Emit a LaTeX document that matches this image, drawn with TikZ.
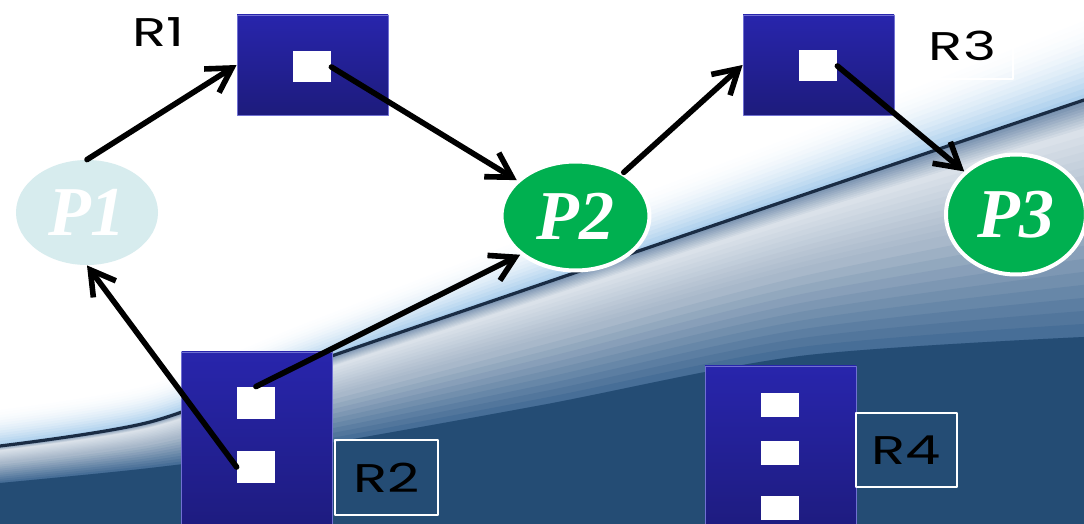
\documentclass[tikz,border=0pt]{standalone}
\usepackage{fontspec}
\setmainfont{Liberation Serif}
\newfontfamily\labelfont[FakeStretch=1.4]{Poppins}
\usetikzlibrary{arrows.meta,shapes.geometric,calc}
\definecolor{resblue}{RGB}{40,37,172}
\definecolor{resdark}{RGB}{29,27,124}
\definecolor{resedge}{RGB}{112,112,210}
\definecolor{procgreen}{RGB}{0,176,80}
\definecolor{procpale}{RGB}{215,236,238}
\definecolor{skyglow}{RGB}{160,200,234}
\definecolor{bandtop}{RGB}{118,144,174}
\definecolor{bandlight}{RGB}{218,225,233}
\definecolor{bandgray}{RGB}{168,184,202}
\definecolor{sweepmid}{RGB}{60,102,145}
\definecolor{sweepdark}{RGB}{36,76,116}
\definecolor{sweepline}{RGB}{26,44,68}
\begin{document}
\begin{tikzpicture}[x=0.5pt,y=-0.5pt,line join=round,line cap=round,>={Straight Barb[length=12pt,width=14pt]}]
	\tikzset{res/.style={rectangle,inner sep=0pt,minimum width=75.5pt,draw=resedge,line width=0.4pt,top color=resblue,bottom color=resdark},
		slot/.style={rectangle,fill=white,inner sep=0pt,minimum width=19pt,minimum height=16pt},
		proc/.style={ellipse,inner sep=0pt,text=white,font=\fontsize{35}{35}\selectfont\bfseries\itshape},
		tag/.style={inner sep=0pt,text=black,font=\labelfont\fontsize{20}{20}\selectfont},
		tagbox/.style={draw=white,line width=0.7pt},
		req/.style={->,line width=2.8pt}}
	\useasboundingbox (0,0) rectangle (1084,524);
	\clip (0,0) rectangle (1084,524);
	% background sweep
	\fill[white] (0,0) rectangle (1084,524);
	\coordinate (g0) at (0,405); \coordinate (g1) at (150,380); \coordinate (g2) at (300,320);
	\coordinate (g3) at (542,225); \coordinate (g4) at (800,125); \coordinate (g5) at (1084,10);
	\coordinate (a0) at (0,446); \coordinate (a1) at (150,422); \coordinate (a2) at (300,367);
	\coordinate (a3) at (542,284); \coordinate (a4) at (800,196); \coordinate (a5) at (1084,100);
	\coordinate (b0) at (0,483); \coordinate (b1) at (150,468); \coordinate (b2) at (300,448);
	\coordinate (b3) at (542,405); \coordinate (b4) at (800,356); \coordinate (b5) at (1084,337);
	\foreach \i in {0,...,16}{
		\pgfmathsetmacro{\t}{\i/16}
		\pgfmathsetmacro{\m}{100*\t*\t}
		\fill[skyglow!\m!white] plot[smooth] coordinates {($(g0)!\t!(a0)$) ($(g1)!\t!(a1)$) ($(g2)!\t!(a2)$) ($(g3)!\t!(a3)$) ($(g4)!\t!(a4)$) ($(g5)!\t!(a5)$)} -- (1084,524) -- (0,524) -- cycle;
	}
	\foreach \ta/\tb/\ca/\cb in {0/0.12/bandtop/bandlight,0.12/0.45/bandlight/bandgray,0.45/1/bandgray/sweepmid}{
		\foreach \j in {0,...,10}{
			\pgfmathsetmacro{\t}{\ta+(\tb-\ta)*\j/10}
			\pgfmathsetmacro{\m}{100*(1-\j/10)}
			\fill[\ca!\m!\cb] plot[smooth] coordinates {($(a0)!\t!(b0)$) ($(a1)!\t!(b1)$) ($(a2)!\t!(b2)$) ($(a3)!\t!(b3)$) ($(a4)!\t!(b4)$) ($(a5)!\t!(b5)$)} -- (1084,524) -- (0,524) -- cycle;
		}
	}
	\fill[sweepdark] plot[smooth] coordinates {(b0) (b1) (b2) (b3) (b4) (b5)} -- (1084,524) -- (0,524) -- cycle;
	\draw[sweepline,line width=1.6pt] plot[smooth] coordinates {(a0) (a1) (a2) (a3) (a4) (a5)};
	% resources
	\node[res,minimum height=50pt] (r1) at (312.5,65) {};
	\node[slot,minimum height=15.5pt] (r1s) at (312,67) {};
	\node[res,minimum height=50pt] (r3) at (818.5,65) {};
	\node[slot,minimum height=15.5pt] (r3s) at (818,66) {};
	\node[res,minimum height=94pt] (r2) at (257,446) {};
	\node[slot] (r2a) at (256,403) {};
	\node[slot] (r2b) at (256,467) {};
	\node[res,minimum height=87pt] (r4) at (780.5,453) {};
	\foreach \y/\n in {405/a,453/b,508/c}
		\node[slot,minimum height=12pt] (r4\n) at (780,\y) {};
	% labels
	\node[tag] (r1l) at (158,32) {R1};
	\node[tag,tagbox,minimum width=50.5pt,minimum height=33.5pt] (r3l) at (962.5,45.5) {R3};
	\node[tag,tagbox,minimum width=51.5pt,minimum height=37.5pt] (r2l) at (386.5,477.5) {R2};
	\node[tag,tagbox,minimum width=50.5pt,minimum height=37pt] (r4l) at (906.5,450) {R4};
	% processes
	\node[proc,fill=procpale,minimum width=71pt,minimum height=52.5pt] (p1) at (87,212.5) {P1};
	\node[proc,fill=procgreen,draw=white,line width=2pt,minimum width=74pt,minimum height=54.5pt] (p2) at (575.5,216) {P2};
	\node[proc,fill=procgreen,draw=white,line width=2pt,minimum width=70pt,minimum height=60pt] (p3) at (1016,214.5) {P3};
	% requests and assignments
	\draw[req] (p1.north) -- (r1.west);
	\draw[req] (r1s.east) -- (p2);
	\draw[req] (p2) -- (r3.west);
	\draw[req] (r3s.east) -- (p3);
	\draw[req] (r2b.west) -- (p1.south);
	\draw[req] (r2a.north) -- (p2.215);
\end{tikzpicture}
\end{document}
